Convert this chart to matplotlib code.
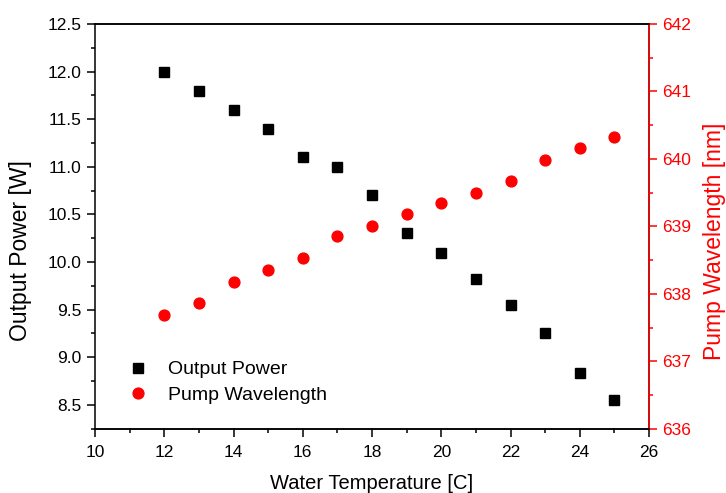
import matplotlib
matplotlib.use("Agg")
import matplotlib.pyplot as plt
from matplotlib.ticker import MultipleLocator, FormatStrFormatter

plt.rcParams['font.family'] = ['Liberation Sans', 'DejaVu Sans']

temperature = [12, 13, 14, 15, 16, 17, 18, 19, 20, 21, 22, 23, 24, 25]
output_power = [12.0, 11.8, 11.6, 11.4, 11.1, 11.0, 10.7, 10.3, 10.1, 9.82, 9.55, 9.25, 8.84, 8.55]
pump_wavelength = [637.69, 637.86, 638.18, 638.35, 638.53, 638.86, 639.01, 639.18, 639.34,
                   639.50, 639.67, 639.99, 640.16, 640.33]

RED = '#ff0000'

fig = plt.figure(figsize=(7.26, 4.93), dpi=100)
ax = fig.add_axes([95/726, 1 - 428.7/493, (649 - 95)/726, (428.7 - 24)/493])
ax2 = ax.twinx()

h1, = ax.plot(temperature, output_power, linestyle='none', marker='s', markersize=6.8,
              color='black', label='Output Power')
h2, = ax2.plot(temperature, pump_wavelength, linestyle='none', marker='o', markersize=7.8,
               color=RED, label='Pump Wavelength')

ax.set_xlim(10, 26)
ax.set_ylim(8.25, 12.5)
ax2.set_ylim(636, 642)

ax.xaxis.set_major_locator(MultipleLocator(2))
ax.xaxis.set_minor_locator(MultipleLocator(1))
ax.yaxis.set_major_locator(MultipleLocator(0.5))
ax.yaxis.set_minor_locator(MultipleLocator(0.25))
ax.yaxis.set_major_formatter(FormatStrFormatter('%.1f'))
ax2.yaxis.set_major_locator(MultipleLocator(1))
ax2.yaxis.set_minor_locator(MultipleLocator(0.5))
ax2.yaxis.set_major_formatter(FormatStrFormatter('%d'))

lw = 1.1
for a in (ax, ax2):
    for s in a.spines.values():
        s.set_linewidth(lw)
ax2.spines['right'].set_color(RED)
ax2.spines['left'].set_visible(False)

ax.tick_params(axis='both', which='major', direction='out', length=6, width=lw,
               labelsize=12.5, pad=3.6, colors='black')
ax.tick_params(axis='both', which='minor', direction='out', length=3, width=lw)
ax.tick_params(axis='x', which='major', pad=6)
ax2.tick_params(axis='y', which='major', direction='out', length=6, width=lw,
                labelsize=12.5, pad=3.6, colors=RED)
ax2.tick_params(axis='y', which='minor', direction='out', length=3, width=lw, colors=RED)

ax.set_xlabel('Water Temperature [C]', fontsize=14.5, labelpad=10)
ax.set_ylabel('Output Power [W]', fontsize=16.5)
ax2.set_ylabel('Pump Wavelength [nm]', fontsize=16.5, color=RED)
ax.yaxis.set_label_coords(-0.114, 0.439)
ax2.yaxis.set_label_coords(1.0975, 0.464)

ax2.legend(handles=[h1, h2], loc='upper left', bbox_to_anchor=(0.060, 0.168),
           frameon=False, fontsize=14, borderpad=0, borderaxespad=0,
           handlelength=1.0, handletextpad=1.05, labelspacing=0.4)

fig.savefig('out.png', dpi=100)
